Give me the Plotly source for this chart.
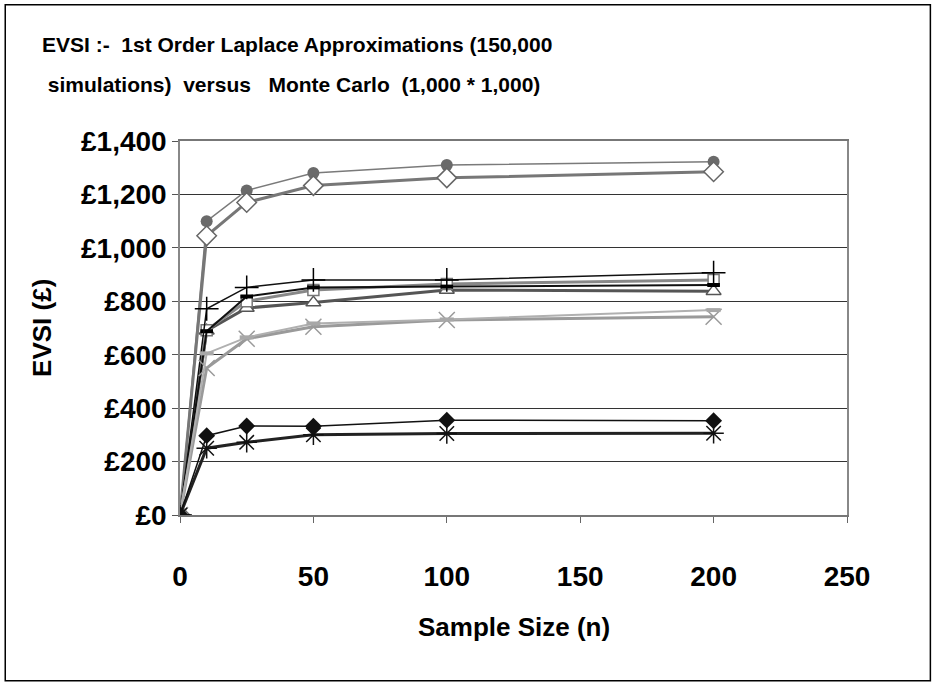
import plotly.graph_objects as go

# ---- data ----
sample_size = [0, 10, 25, 50, 100, 200]

evsi_circle = [0, 1100, 1215, 1280, 1310, 1322]
evsi_diamond_open = [0, 1045, 1170, 1233, 1262, 1285]
evsi_plus = [0, 772, 852, 880, 880, 907]
evsi_bar = [0, 688, 818, 852, 855, 861]
evsi_square_open = [0, 692, 800, 842, 865, 880]
evsi_triangle_open = [0, 690, 775, 795, 842, 838]
evsi_grey_dash = [0, 605, 665, 717, 732, 767]
evsi_grey_x = [0, 550, 660, 705, 730, 742]
evsi_diamond = [0, 297, 333, 332, 355, 353]
evsi_star = [0, 250, 272, 300, 305, 306]

y_tick_vals = [0, 200, 400, 600, 800, 1000, 1200, 1400]
y_tick_text = ["£0", "£200", "£400", "£600", "£800", "£1,000", "£1,200", "£1,400"]
x_tick_vals = [0, 50, 100, 150, 200, 250]

title_line1 = "EVSI :-\u00a0 1st Order Laplace Approximations (150,000"
title_line2 = "\u00a0simulations)\u00a0 versus\u00a0\u00a0 Monte Carlo\u00a0 (1,000 * 1,000)"
x_title = "Sample Size (n)"
y_title = "EVSI (£)"

FONT = "Liberation Sans, Arial, sans-serif"

fig = go.Figure()

def add(y, line_color, line_width, symbol, msize, mcolor, mline_color, mline_width):
    fig.add_trace(go.Scatter(
        x=sample_size, y=y, mode="lines+markers",
        line=dict(color=line_color, width=line_width),
        marker=dict(symbol=symbol, size=msize, color=mcolor,
                    line=dict(color=mline_color, width=mline_width)),
        showlegend=False, hoverinfo="x+y"))

add(evsi_circle, "#7a7a7a", 1.5, "circle", 12, "#6a6a6a", "#6a6a6a", 0)
add(evsi_diamond_open, "#777777", 3, "diamond", 15, "white", "#666666", 1.5)
add(evsi_triangle_open, "#555555", 3, "triangle-up", 13, "white", "#555555", 1.5)
add(evsi_square_open, "#888888", 3, "square", 11, "white", "#777777", 1.5)
add(evsi_bar, "#111111", 2, "line-ew", 9, "#000000", "#000000", 4)
add(evsi_plus, "#111111", 1.5, "cross-thin", 17, "#000000", "#000000", 1.5)
add(evsi_grey_x, "#9a9a9a", 3, "x-thin", 16, "#9a9a9a", "#9a9a9a", 1.5)
add(evsi_grey_dash, "#b0b0b0", 2, "line-ew", 10, "#a8a8a8", "#a8a8a8", 4)
add(evsi_star, "#222222", 3, "asterisk", 17, "#111111", "#111111", 1.5)
add(evsi_diamond, "#111111", 1.5, "diamond", 13, "#111111", "#111111", 0)

fig.update_layout(
    width=936, height=682,
    margin=dict(l=180, r=89, t=141, b=167),
    paper_bgcolor="white", plot_bgcolor="white",
    font=dict(family=FONT, color="black"),
    xaxis=dict(range=[0, 250], tickvals=x_tick_vals, ticks="outside", ticklen=6,
               tickcolor="#666666", showgrid=False, zeroline=False,
               showline=True, linecolor="#777777", linewidth=1.5, mirror=True,
               tickfont=dict(size=28, family=FONT, weight="bold"),
               ticklabelstandoff=30),
    yaxis=dict(range=[0, 1400], tickvals=y_tick_vals, ticktext=y_tick_text,
               ticks="outside", ticklen=6, tickcolor="#555555",
               showgrid=True, gridcolor="#333333", gridwidth=1, zeroline=False,
               showline=True, linecolor="#888888", linewidth=1.5, mirror=True,
               tickfont=dict(size=28, family=FONT, weight="bold"),
               ticklabelstandoff=0),
)

fig.add_annotation(text=title_line1, xref="paper", yref="paper",
                   x=-0.21, y=1.257, xanchor="left", yanchor="middle", showarrow=False,
                   font=dict(size=21, family=FONT, weight="bold"))
fig.add_annotation(text=title_line2, xref="paper", yref="paper",
                   x=-0.21, y=1.15, xanchor="left", yanchor="middle", showarrow=False,
                   font=dict(size=21, family=FONT, weight="bold"))
fig.add_annotation(text=x_title, xref="paper", yref="paper",
                   x=0.5, y=-0.3, xanchor="center", yanchor="middle", showarrow=False,
                   font=dict(size=26, family=FONT, weight="bold"))
fig.add_annotation(text=y_title, xref="paper", yref="paper",
                   x=-0.207, y=0.5, xanchor="center", yanchor="middle", showarrow=False,
                   textangle=-90, font=dict(size=26, family=FONT, weight="bold"))

# outer chart border
fig.add_shape(type="rect", xref="paper", yref="paper",
              x0=-0.262, x1=1.125, y0=-0.443, y1=1.364,
              line=dict(color="black", width=1.5), fillcolor="rgba(0,0,0,0)", layer="below")

fig.write_html("out.html")
